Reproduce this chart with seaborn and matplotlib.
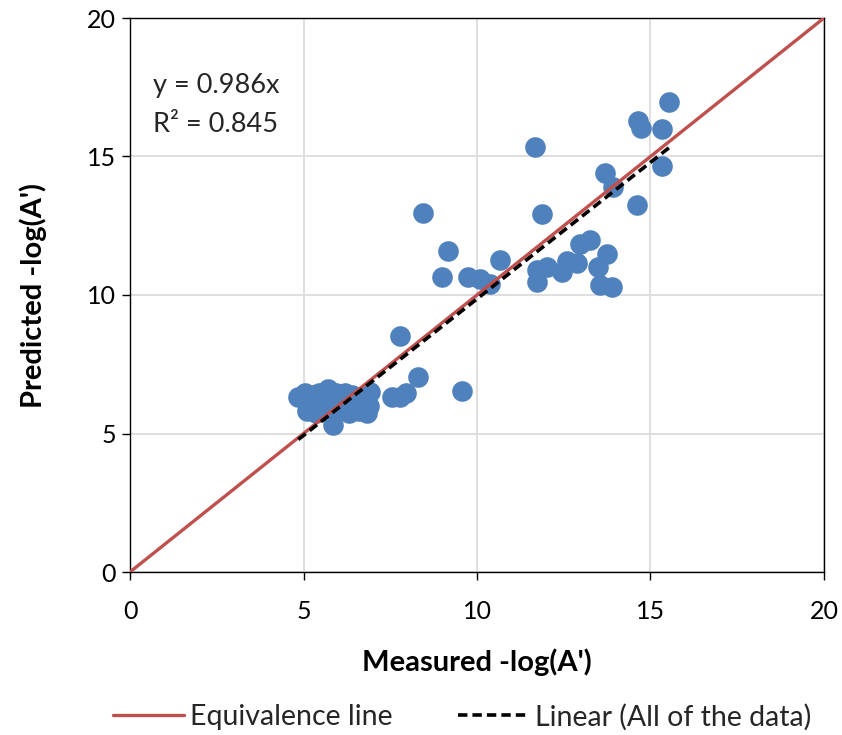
import numpy as np
import pandas as pd
import matplotlib
matplotlib.use("Agg")
import matplotlib.pyplot as plt
import seaborn as sns
from matplotlib.lines import Line2D

measured = [4.85, 5.05, 5.25, 5.45, 5.71, 5.60, 5.30, 5.10, 5.35, 5.55, 5.86, 5.90,
            6.05, 6.20, 6.40, 6.30, 6.55, 6.60, 6.82, 6.90, 6.92, 6.70, 5.95, 5.75,
            7.55, 7.78, 7.95, 7.78, 8.29, 9.56, 8.43, 9.17, 9.00, 9.75, 10.09, 10.37, 10.66,
            11.67, 11.72, 12.03, 11.72, 12.44, 12.60, 12.88, 12.97, 13.25, 13.50, 13.75,
            13.54, 13.88, 11.88, 14.61, 13.91, 13.69, 15.34, 15.34, 14.72, 14.65, 15.54]
predicted = [6.33, 6.45, 6.40, 6.45, 6.60, 6.30, 6.05, 5.80, 5.75, 5.90, 5.30, 5.90,
             6.20, 6.45, 6.40, 5.75, 6.10, 5.80, 5.75, 6.00, 6.50, 6.20, 6.45, 6.15,
             6.30, 6.30, 6.45, 8.52, 7.05, 6.53, 12.97, 11.60, 10.64, 10.64, 10.57, 10.40, 11.28,
             15.33, 10.90, 11.02, 10.47, 10.84, 11.23, 11.14, 11.83, 11.97, 11.02, 11.49,
             10.36, 10.30, 12.94, 13.24, 13.89, 14.42, 14.66, 15.99, 16.02, 16.29, 16.98]
equiv_x = [0, 20]
fit_slope = 0.986
r_squared = 0.845
ticks = [0, 5, 10, 15, 20]

df = pd.DataFrame({"Measured": measured, "Predicted": predicted})

sns.set_theme(style="white")
plt.rcParams['font.family'] = ['Lato', 'DejaVu Sans']

fig = plt.figure(figsize=(8.42, 7.35), dpi=100)
ax = fig.add_axes([130/842, 1-572/735, (824-130)/842, (572-18)/735])

ax.grid(True, color="#D9D9D9", linewidth=1.2, zorder=0)
ax.set_axisbelow(True)

sns.scatterplot(data=df, x="Measured", y="Predicted", ax=ax, s=220,
                color="#4F81BD", edgecolor="#4F81BD", linewidth=0, zorder=3, legend=False)

ex = np.array(equiv_x, dtype=float)
sns.lineplot(x=ex, y=ex, ax=ax, color="#C0504D", linewidth=2.4, zorder=4)
fx = np.array([min(measured), max(measured)])
dash = (0, (2.6, 1.4))
ax.plot(fx, fit_slope * fx, color="black", linestyle=dash, linewidth=2.6, zorder=5)

ax.set_xlim(0, 20)
ax.set_ylim(0, 20)
ax.set_xticks(ticks)
ax.set_yticks(ticks)
ax.tick_params(axis="both", labelsize=18, direction="out", length=6, width=1,
               color="black", bottom=True, left=True, labelcolor="black")
ax.tick_params(axis="x", pad=14)
ax.tick_params(axis="y", pad=4)
for sp in ax.spines.values():
    sp.set_visible(True)
    sp.set_color("black")
    sp.set_linewidth(1.0)

ax.set_xlabel("Measured -log(A')", fontsize=21, fontweight="bold", color="black")
ax.set_ylabel("Predicted -log(A')", fontsize=21, fontweight="bold", color="black")
ax.xaxis.set_label_coords(0.5, (572-662)/554)
ax.yaxis.set_label_coords((33-130)/694, 0.5)
ax.xaxis.label.set_va("center")
ax.yaxis.label.set_va("center")

fig.text(153/842, 1-85/735, f"y = {fit_slope}x", fontsize=19.5, va="center", ha="left")
fig.text(153/842, 1-125/735, f"R² = {r_squared}", fontsize=19.5, va="center", ha="left")

handles = [Line2D([0], [0], color="#C0504D", linewidth=2.4),
           Line2D([0], [0], color="black", linestyle=dash, linewidth=2.6)]
fig.legend(handles, ["Equivalence line", "Linear (All of the data)"],
           loc="center", bbox_to_anchor=(462/842, 1-717/735), ncol=2, frameon=False,
           fontsize=20.5, handlelength=2.5, columnspacing=2.3, handletextpad=0.2,
           borderpad=0, borderaxespad=0)

fig.savefig("out.png", dpi=100)
